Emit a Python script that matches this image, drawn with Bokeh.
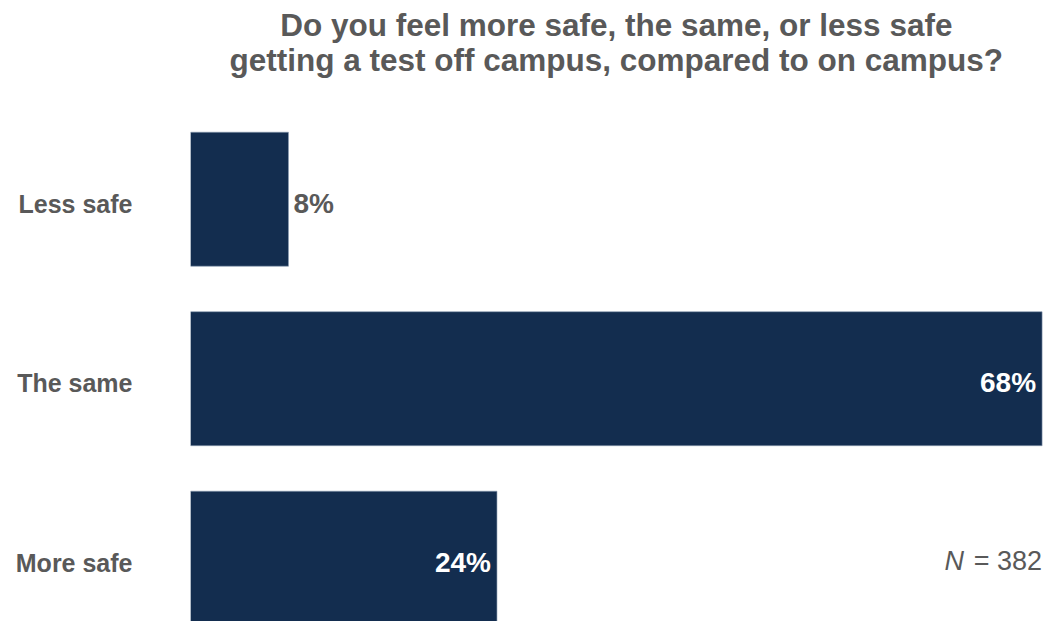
from bokeh.plotting import figure
from bokeh.models import Range1d, FixedTicker, ColumnDataSource, Label
from bokeh.core.properties import value
from bokeh.embed import file_html
from bokeh.resources import INLINE

# ---- data ----
categories = ["More safe", "The same", "Less safe"]
shares = [24.4, 67.8, 7.8]          # percent of respondents
n_respondents = 382
title_lines = ["Do you feel more safe, the same, or less safe",
               "getting a test off campus, compared to on campus?"]

BAR = "#132D4F"
GRAY = "#595959"
FONT = "Liberation Sans"

ypos = list(range(len(categories)))
labels = [f"{round(v)}%" for v in shares]
inside = [v > 15 for v in shares]

p = figure(width=1050, height=621, output_backend="svg", toolbar_location=None,
           x_range=Range1d(0, 68.47), y_range=Range1d(-0.3526, 3.107),
           min_border_left=190, min_border_right=0, min_border_top=0, min_border_bottom=0)
p.outline_line_color = None
p.xgrid.visible = False
p.ygrid.visible = False
p.xaxis.visible = False
p.background_fill_color = "white"
p.border_fill_color = "white"

src = ColumnDataSource(dict(y=ypos, v=shares, lab=labels))
p.hbar(y="y", right="v", left=0, height=0.7465, source=src,
       fill_color=BAR, line_color="#8A9AB0", line_width=0.6)

# value labels
in_src = ColumnDataSource(dict(y=[y for y, i in zip(ypos, inside) if i],
                               v=[v for v, i in zip(shares, inside) if i],
                               lab=[l for l, i in zip(labels, inside) if i]))
out_src = ColumnDataSource(dict(y=[y for y, i in zip(ypos, inside) if not i],
                                v=[v for v, i in zip(shares, inside) if not i],
                                lab=[l for l, i in zip(labels, inside) if not i]))
p.text(x="v", y="y", text="lab", source=in_src, text_align="right", text_baseline="middle",
       x_offset=-6, y_offset=4, text_color="white", text_font=value(FONT), text_font_size="28px",
       text_font_style="bold")
p.text(x="v", y="y", text="lab", source=out_src, text_align="left", text_baseline="middle",
       x_offset=5, y_offset=4, text_color=GRAY, text_font=value(FONT), text_font_size="28px",
       text_font_style="bold")

# y axis (labels sit a few pixels below each bar's centre, as in the original)
ax = p.yaxis[0]
tick_pos = [y - 0.025 for y in ypos]
ax.ticker = FixedTicker(ticks=tick_pos)
ax.major_label_overrides = {t: c for t, c in zip(tick_pos, categories)}
ax.axis_line_color = None
ax.major_tick_line_color = None
ax.minor_tick_line_color = None
ax.major_tick_out = 0
ax.major_label_standoff = 58
ax.major_label_text_font = FONT
ax.major_label_text_font_size = "25px"
ax.major_label_text_font_style = "bold"
ax.major_label_text_color = GRAY

# title (two centered lines over the bars)
xc = max(shares) / 2
p.text(x=[xc, xc], y=[2.968, 2.778], text=title_lines, text_align="center",
       text_baseline="middle", text_color=GRAY, text_font=value(FONT),
       text_font_size="31.5px", text_font_style="bold")

# N annotation
xm = max(shares)
p.add_layout(Label(x=xm, y=0, text=f"= {n_respondents}", text_align="right",
                   text_baseline="middle", text_color=GRAY, text_font=FONT,
                   text_font_size="27px", y_offset=-3))
p.add_layout(Label(x=xm, y=0, text="N", text_align="right", x_offset=-78,
                   text_baseline="middle", text_color=GRAY, text_font=FONT,
                   text_font_size="27px", text_font_style="italic", y_offset=-3))

open("out.html", "w").write(file_html(p, INLINE))
